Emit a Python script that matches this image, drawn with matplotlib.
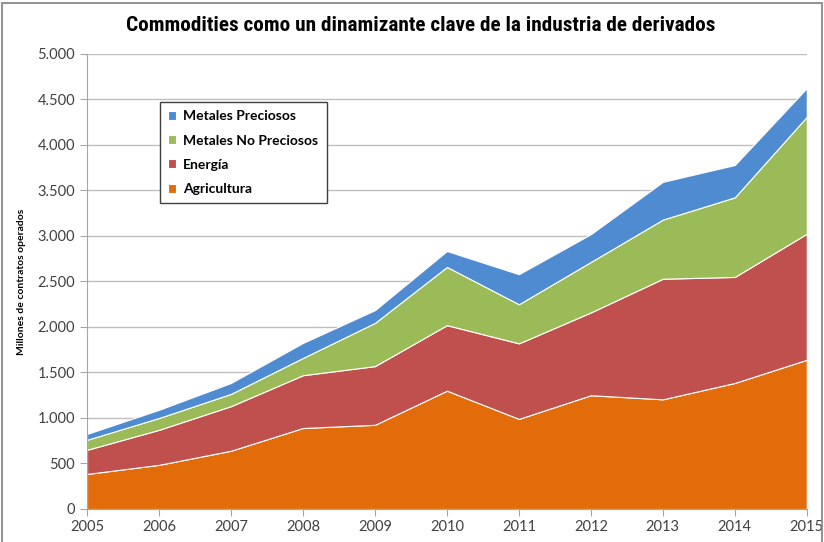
import matplotlib.pyplot as plt
from matplotlib.patches import Rectangle
from matplotlib.ticker import FuncFormatter
from matplotlib import font_manager

years = [2005, 2006, 2007, 2008, 2009, 2010, 2011, 2012, 2013, 2014, 2015]
agricultura = [385, 485, 640, 890, 925, 1300, 990, 1250, 1205, 1385, 1640]
energia = [265, 385, 490, 580, 645, 720, 830, 910, 1325, 1165, 1385]
metales_no_preciosos = [110, 130, 135, 190, 475, 640, 430, 555, 650, 875, 1285]
metales_preciosos = [65, 90, 120, 165, 140, 175, 330, 305, 415, 355, 315]

labels = ["Agricultura", "Energía", "Metales No Preciosos", "Metales Preciosos"]
colors = ["#E36C0A", "#C0504D", "#9BBB59", "#4F8BD1"]
title = "Commodities como un dinamizante clave de la industria de derivados"

plt.rcParams["font.family"] = ["Lato", "DejaVu Sans"]

fig = plt.figure(figsize=(8.24, 5.42), dpi=100)
ax = fig.add_axes([0.1056, 0.0609, 0.8735, 0.8395])

ax.stackplot(years, agricultura, energia, metales_no_preciosos, metales_preciosos,
             labels=labels, colors=colors, edgecolor="white", linewidth=0.8)

ax.set_xlim(2005, 2015)
ax.set_ylim(0, 5000)
ax.set_xticks(years)
ax.set_yticks(range(0, 5001, 500))
ax.yaxis.set_major_formatter(FuncFormatter(lambda v, p: f"{int(v):,}".replace(",", ".")))
ax.grid(axis="y", color="#BFBFBF", linewidth=1)
ax.set_axisbelow(True)
for side in ["top", "right"]:
    ax.spines[side].set_visible(False)
for side in ["left", "bottom"]:
    ax.spines[side].set_color("#A6A6A6")
ax.tick_params(colors="#A6A6A6", labelcolor="#404040", labelsize=10.5, length=5)
ax.tick_params(axis="x", pad=3)

ax.set_ylabel("Millones de contratos operados", fontsize=7.5, fontweight="bold", labelpad=8)

handles, labs = ax.get_legend_handles_labels()
leg = ax.legend(handles[::-1], labs[::-1], loc="upper left", bbox_to_anchor=(0.101, 0.8945),
                borderaxespad=0, fancybox=False, edgecolor="#404040", framealpha=1,
                prop={"weight": "bold", "size": 10}, handlelength=0.6, handleheight=0.6,
                handletextpad=0.5, labelspacing=0.88, borderpad=0.6)
leg.get_frame().set_linewidth(1)

# condensed font if available, then fit the title to the reference width
names = {f.name for f in font_manager.fontManager.ttflist}
title_family = ["Roboto Condensed", "DejaVu Sans"] if "Roboto Condensed" in names else ["DejaVu Sans"]
t = fig.text(0.51, 0.953, title, ha="center", va="center", fontsize=15,
             fontweight="bold", family=title_family)
fig.canvas.draw()
w = t.get_window_extent().width
t.set_fontsize(15 * 590 / w)

fig.patches.append(Rectangle((0.003, -0.01), 0.994, 1.005, transform=fig.transFigure,
                             fill=False, edgecolor="#7F7F7F", linewidth=1.2))

fig.savefig("out.png", dpi=100)
